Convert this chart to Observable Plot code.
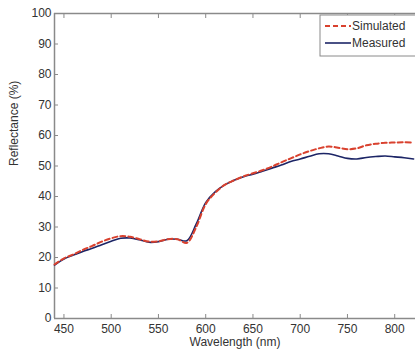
<!DOCTYPE html>
<html><head><meta charset="utf-8">
<script src="https://cdn.jsdelivr.net/npm/d3@7"></script>
<script src="https://cdn.jsdelivr.net/npm/@observablehq/plot@0.6"></script>
<style>
body{margin:0;background:#fff}
#chart svg{font-family:"Liberation Sans",Arial,sans-serif}
</style>
</head><body><div id="chart"></div>
<script>
const wavelengths = [440,450,460,470,480,490,500,510,520,530,540,550,560,570,580,590,600,610,620,630,640,650,660,670,680,690,700,710,720,730,740,750,760,770,780,790,800,810,820];
const measured = [17.5,19.5,20.8,22.0,23.0,24.2,25.3,26.3,26.4,25.8,25.0,25.2,26.0,26.0,25.5,31.0,38.0,41.5,43.8,45.3,46.5,47.3,48.3,49.3,50.3,51.5,52.3,53.2,54.0,54.0,53.3,52.5,52.3,52.8,53.1,53.3,53.0,52.7,52.3];
const simulated = [17.7,19.7,21.0,22.5,23.8,25.2,26.3,27.0,26.8,26.0,25.2,25.3,26.0,26.0,24.8,30.0,37.5,41.2,43.8,45.3,46.6,47.6,48.6,49.8,51.2,52.5,53.8,54.9,55.8,56.4,56.0,55.5,55.8,56.8,57.3,57.6,57.7,57.8,57.7];
const xTicks = [450,500,550,600,650,700,750,800];
const yTicks = [0,10,20,30,40,50,60,70,80,90,100];
const seriesNames = ["Simulated","Measured"];
const xLabel = "Wavelength (nm)";
const yLabel = "Reflectance (%)";

const simData = wavelengths.map((w,i)=>({w, v: simulated[i]}));
const meaData = wavelengths.map((w,i)=>({w, v: measured[i]}));

const axisColor = "#8a8a8a";
const textColor = "#333";
const redColor = "#d9412e";
const blueColor = "#1c2566";

const plot = Plot.plot({
  width: 415, height: 353,
  marginLeft: 54, marginRight: 0, marginTop: 13, marginBottom: 35,
  style: {fontFamily: '"Liberation Sans",Arial,sans-serif', fontSize: "12px", color: textColor, background: "#fff", overflow: "hidden"},
  x: {domain: [440, 822]},
  y: {domain: [0, 100]},
  marks: [
    Plot.ruleY([0], {stroke: axisColor, strokeWidth: 1.5}),
    Plot.ruleY([100], {stroke: axisColor, strokeWidth: 1.5}),
    Plot.ruleX([440], {stroke: axisColor, strokeWidth: 1.5}),
    Plot.axisX(xTicks, {anchor: "bottom", tickSize: -4, tickPadding: 10, stroke: axisColor, fill: textColor, fontSize: 12, label: null}),
    Plot.axisX(xTicks, {anchor: "top", tickSize: -4, tickFormat: () => "", stroke: axisColor, label: null}),
    Plot.axisY(yTicks, {anchor: "left", tickSize: -4, tickPadding: 7, stroke: axisColor, fill: textColor, fontSize: 12, label: null}),
    Plot.text([xLabel], {frameAnchor: "bottom", dy: 27, fill: textColor, fontSize: 12}),
    Plot.text([yLabel], {frameAnchor: "left", dx: -40, rotate: -90, fill: textColor, fontSize: 12}),
    Plot.line(meaData, {x: "w", y: "v", stroke: blueColor, strokeWidth: 1.6, curve: "catmull-rom"}),
    Plot.line(simData, {x: "w", y: "v", stroke: redColor, strokeWidth: 2, strokeDasharray: "5,3", curve: "catmull-rom"})
  ]
});
document.getElementById("chart").appendChild(plot);

// legend
const svg = d3.select(plot);
const lg = svg.append("g").attr("text-anchor", "start");
lg.append("rect").attr("x", 320).attr("y", 15).attr("width", 110).attr("height", 41)
  .attr("fill", "#fff").attr("stroke", axisColor).attr("stroke-width", 1);
const items = [
  {name: seriesNames[0], color: redColor, dash: "5,3", w: 2, y: 26},
  {name: seriesNames[1], color: blueColor, dash: null, w: 1.6, y: 43}
];
for (const it of items) {
  lg.append("line").attr("x1", 325).attr("x2", 351).attr("y1", it.y).attr("y2", it.y)
    .attr("stroke", it.color).attr("stroke-width", it.w).attr("stroke-dasharray", it.dash);
  lg.append("text").attr("x", 352).attr("y", it.y).attr("dy", "0.35em")
    .attr("text-anchor", "start")
    .attr("fill", textColor).attr("font-size", 12).text(it.name);
}
</script>
</body></html>
